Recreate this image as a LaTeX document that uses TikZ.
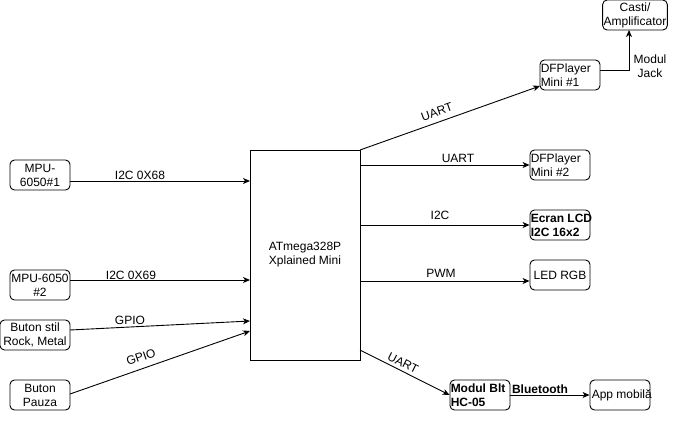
\documentclass[tikz,border=0pt]{standalone}
\usepackage{fontspec}
\setmainfont{Liberation Sans}
\usetikzlibrary{arrows.meta}
\begin{document}
\begin{tikzpicture}[x=1pt,y=-1pt,
  font=\fontsize{12}{14}\selectfont,
  box/.style={draw,line width=0.9pt,rounded corners=4.5pt,minimum width=60pt,minimum height=30pt,inner sep=1pt,align=center},
  ltext/.style={anchor=west,align=left,inner sep=0pt},
  btext/.style={ltext,font=\fontsize{12}{14}\selectfont\bfseries},
  lbl/.style={inner sep=0pt,align=center},
  conn/.style={line width=0.9pt,-{Stealth[length=7pt,width=6pt,inset=2pt]}}]
\useasboundingbox (0,0) rectangle (681,421);
% main box
\node[draw,line width=0.9pt,minimum width=110pt,minimum height=210pt,align=center,inner sep=0pt] (mcu) at (305,255) {ATmega328P\\Xplained Mini};
% left nodes
\node[box] (mpu1) at (40,175) {MPU-\\6050\#1};
\node[box] (mpu2) at (40,285) {MPU-6050\\\#2};
\node[box,minimum width=70pt] (bstil) at (35,335) {Buton stil\\Rock, Metal};
\node[box] (bpauza) at (40,395) {Buton\\Pauza};
% right nodes
\node[box] (casti) at (635,15) {Casti/\\Amplificator};
\node[box] (df1) at (570,75) {};
\node[ltext] (df1t) at ([xshift=1pt]df1.west) {DFPlayer\\Mini \#1};
\node[box] (df2) at (560,165) {};
\node[ltext] (df2t) at ([xshift=1pt]df2.west) {DFPlayer\\Mini \#2};
\node[box] (lcd) at (560,225) {};
\node[btext] (lcdt) at ([xshift=1pt]lcd.west) {Ecran LCD\\I2C 16x2};
\node[box] (led) at (560,275) {LED RGB};
\node[box] (blt) at (480,395) {};
\node[btext] (bltt) at ([xshift=1pt]blt.west) {Modul Blt\\HC-05};
\node[box] (app) at (620,395) {};
\node[ltext] (appt) at ([xshift=2pt]app.west) {App mobilă};
% coordinates on main box
\coordinate (in1) at (250,181);
\coordinate (in2) at (250,280);
\coordinate (in3) at (250,321);
\coordinate (in4) at (250,331);
\coordinate (o1) at (360,150);
\coordinate (o2) at (360,165);
\coordinate (o3) at (360,225);
\coordinate (o4) at (360,281);
\coordinate (o5) at (360,350);
% connectors
\draw[conn] (mpu1.east |- in1) -- (in1);
\draw[conn] (mpu2.east |- in2) -- (in2);
\draw[conn] (70,330) -- (in3);
\draw[conn] (70,394) -- (in4);
\draw[conn] (o1) -- (540,86);
\draw[conn] (o2) -- (df2.west |- o2);
\draw[conn] (o3) -- (lcd.west |- o3);
\draw[conn] (o4) -- (led.west |- o4);
\draw[conn] (o5) -- (blt.west);
\draw[conn] (blt.east) -- (app.west);
\draw[conn] (df1.east |- 0,70) -- (629,70) -- (629,30);
% labels
\node[lbl] at (140,175) {I2C 0X68};
\node[lbl] at (131,275) {I2C 0X69};
\node[lbl] at (130,320) {GPIO};
\node[lbl,rotate=19] at (141,357) {GPIO};
\node[lbl,rotate=19] at (437,112) {UART};
\node[lbl] at (650,66) {Modul\\Jack};
\node[lbl] at (458,158) {UART};
\node[lbl] at (440,215) {I2C};
\node[lbl] at (441,273) {PWM};
\node[lbl,rotate=-27] at (403,363) {UART};
\node[lbl,font=\fontsize{12}{14}\selectfont\bfseries] at (540,389) {Bluetooth};
\end{tikzpicture}
\end{document}
